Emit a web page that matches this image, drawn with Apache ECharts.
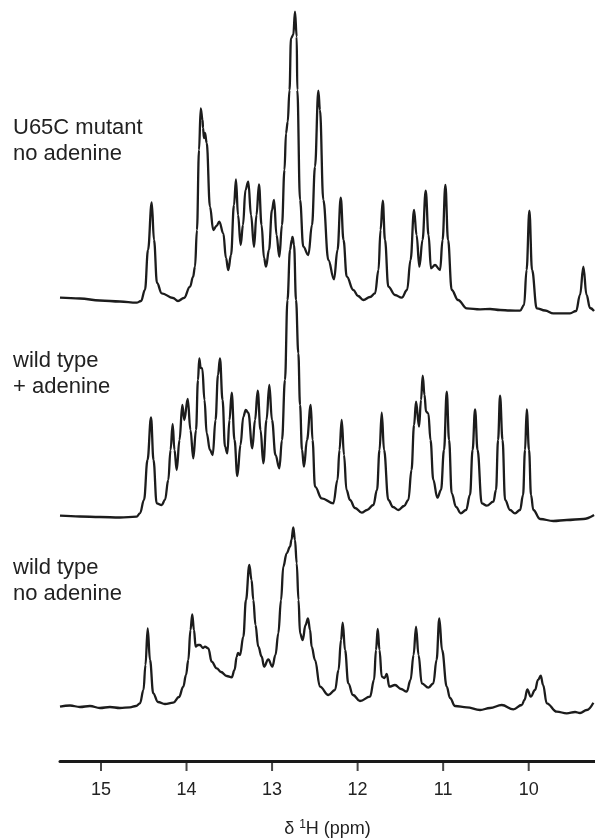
<!DOCTYPE html>
<html>
<head>
<meta charset="utf-8">
<script src="https://cdn.jsdelivr.net/npm/echarts@6/dist/echarts.min.js"></script>
<style>
  html, body { margin: 0; padding: 0; background: #fff; }
  #main { width: 595px; height: 838px; }
</style>
</head>
<body>
<div id="main"></div>
<script>
// chemical shift (ppm) and intensity (a.u.)
var shiftU65C = [15.479, 15.246, 15.012, 14.778, 14.583, 14.532, 14.486, 14.450, 14.407, 14.380, 14.345, 14.290,
  14.158, 14.100, 14.030, 13.959, 13.924, 13.901, 13.878, 13.854, 13.834, 13.813, 13.807, 13.796, 13.784, 13.764,
  13.726, 13.687, 13.650, 13.617, 13.570, 13.539, 13.512, 13.480, 13.445, 13.422, 13.398, 13.367, 13.340, 13.311,
  13.278, 13.246, 13.211, 13.182, 13.153, 13.123, 13.094, 13.071, 13.036, 13.001, 12.977, 12.948, 12.915, 12.884,
  12.855, 12.837, 12.817, 12.796, 12.779, 12.752, 12.732, 12.712, 12.705, 12.673, 12.635, 12.576, 12.533, 12.498,
  12.459, 12.440, 12.401, 12.342, 12.276, 12.235, 12.197, 12.165, 12.127, 12.050, 11.995, 11.933, 11.855, 11.796,
  11.756, 11.732, 11.706, 11.680, 11.641, 11.563, 11.484, 11.422, 11.381, 11.340, 11.311, 11.278, 11.241, 11.204,
  11.171, 11.142, 11.095, 11.036, 11.007, 10.974, 10.943, 10.900, 10.826, 10.724, 10.569, 10.452, 10.335, 10.218,
  10.101, 10.054, 10.025, 9.992, 9.961, 9.906, 9.809, 9.712, 9.517, 9.446, 9.400, 9.361, 9.324, 9.283, 9.236];
var intU65C = [2.3, 1.5, -0.5, -1.5, -2.7, -1, 10, 50, 97.7, 60, 17, 6.7,
  2, -1, 2, 13.3, 23, 33.3, 70, 150, 191.7, 180, 172, 162, 167, 157,
  93.3, 70, 74, 78.3, 66.7, 42, 30, 45, 95, 120.7, 85, 55, 75, 110,
  118.3, 85, 53.3, 85, 115.7, 75, 42, 33.3, 50, 90, 100, 65, 43.3, 75,
  130, 166.7, 178.3, 210, 261.7, 265, 288.3, 263.3, 210, 100, 53.3, 45, 75, 133.3,
  209.3, 190, 100, 40, 20.7, 50, 102.3, 60, 23.3, 10, 4, 0, 3, 6.7,
  30, 70, 99.3, 60, 13.3, 5, 2.3, 10, 40, 90, 65, 33.3, 60, 109.3,
  65, 31.7, 35, 30, 60, 115, 60, 10, 0, -8.3, -9.3, -9, -10, -10.5,
  -10.7, -5, 30, 89.3, 30, -8.3, -10.5, -13.3, -13.3, -11, 5, 33.3, 5, -8, -11];

var shiftWtAde = [15.479, 15.246, 15.012, 14.778, 14.583, 14.544, 14.497, 14.456, 14.415, 14.386, 14.349, 14.290,
  14.252, 14.213, 14.187, 14.162, 14.141, 14.115, 14.082, 14.049, 14.026, 13.986, 13.954, 13.921, 13.889, 13.866,
  13.851, 13.834, 13.816, 13.790, 13.764, 13.726, 13.694, 13.661, 13.632, 13.609, 13.579, 13.550, 13.523, 13.498,
  13.472, 13.439, 13.406, 13.369, 13.336, 13.307, 13.278, 13.231, 13.199, 13.168, 13.135, 13.102, 13.065, 13.032,
  13.001, 12.960, 12.915, 12.884, 12.849, 12.820, 12.790, 12.770, 12.761, 12.743, 12.720, 12.693, 12.673, 12.650,
  12.627, 12.592, 12.548, 12.527, 12.498, 12.420, 12.284, 12.235, 12.212, 12.186, 12.159, 12.130, 12.089, 12.030,
  11.952, 11.890, 11.816, 11.773, 11.744, 11.718, 11.691, 11.641, 11.586, 11.524, 11.457, 11.407, 11.370, 11.340,
  11.317, 11.282, 11.259, 11.239, 11.218, 11.200, 11.173, 11.148, 11.115, 11.068, 11.025, 10.990, 10.958, 10.931,
  10.900, 10.849, 10.794, 10.732, 10.686, 10.656, 10.627, 10.598, 10.549, 10.490, 10.413, 10.382, 10.358, 10.335,
  10.306, 10.276, 10.218, 10.160, 10.101, 10.066, 10.043, 10.023, 9.996, 9.973, 9.946, 9.867, 9.712, 9.555, 9.361, 9.236];
var intWtAde = [4.3, 3.5, 3, 2.5, 3.3, 6.7, 20, 60, 102.7, 60, 16.7, 15,
  20, 40, 70, 96, 70, 50, 80, 115, 100, 121, 90, 61.7, 90, 140,
  161.7, 152, 151.7, 120, 86.7, 70, 65, 100, 145, 161.7, 120, 73.3, 66.7, 100,
  127.3, 80, 44, 75, 103.3, 110, 107.3, 71.7, 100, 129.3, 90, 56.7, 100, 135,
  100, 65, 51.7, 80, 140, 220, 270, 280, 283, 275, 220, 166.7, 115, 70,
  53.3, 80, 115, 80, 33.3, 21.7, 16.7, 40, 70, 100, 65, 30, 20, 12,
  7.3, 10, 15, 30, 70, 107.3, 70, 20, 13, 10, 14, 20, 50, 95,
  118.3, 93.3, 120, 144.3, 125, 108.3, 106.7, 80, 40, 22.3, 30, 70, 128.3, 80,
  26.7, 13, 6.7, 10, 25, 70, 110.7, 70, 16.7, 14.3, 18.3, 30, 80, 124.3,
  80, 20, 10, 6.7, 10, 25, 70, 110.7, 70, 25, 10, 1, -1, 0, 1, 5];

var shiftWtApo = [15.479, 15.362, 15.246, 15.129, 15.012, 14.895, 14.778, 14.661, 14.591, 14.544, 14.503, 14.480,
  14.454, 14.427, 14.389, 14.334, 14.252, 14.155, 14.088, 14.038, 14.006, 13.979, 13.954, 13.933, 13.913, 13.893,
  13.866, 13.843, 13.807, 13.784, 13.745, 13.706, 13.647, 13.597, 13.530, 13.472, 13.439, 13.413, 13.398, 13.375,
  13.336, 13.305, 13.266, 13.240, 13.219, 13.194, 13.161, 13.121, 13.094, 13.044, 12.997, 12.960, 12.927, 12.895,
  12.869, 12.829, 12.790, 12.773, 12.752, 12.732, 12.712, 12.691, 12.673, 12.642, 12.609, 12.580, 12.556, 12.537,
  12.498, 12.440, 12.342, 12.264, 12.223, 12.194, 12.174, 12.147, 12.109, 12.054, 11.972, 11.855, 11.808, 11.785,
  11.765, 11.744, 11.718, 11.685, 11.660, 11.629, 11.563, 11.492, 11.426, 11.381, 11.346, 11.317, 11.288, 11.250,
  11.173, 11.115, 11.077, 11.045, 11.013, 10.958, 10.920, 10.861, 10.724, 10.569, 10.452, 10.315, 10.179, 10.081,
  10.049, 10.016, 9.976, 9.926, 9.891, 9.859, 9.832, 9.789, 9.672, 9.555, 9.458, 9.400, 9.321, 9.244];
var intWtApo = [3.3, 4.5, 3, 4, 2, 3, 2, 2.7, 4, 6.7, 20, 45,
  81.7, 50, 16.7, 8, 6, 7.3, 13, 23.3, 35, 50, 80, 95.7, 80, 63.3,
  65, 65, 62, 63.3, 61.7, 48.3, 41.7, 38, 34, 32.7, 40, 53.3, 57, 55,
  73.3, 110, 145, 130, 110, 85, 63.3, 53.3, 43.3, 50.7, 43.3, 55, 76.7, 110,
  143.3, 156.7, 163.3, 170, 182.7, 170, 146.7, 110, 76.7, 70, 85, 91.7, 80, 63.3,
  50, 23.3, 15, 20, 40, 70, 87.3, 60, 26.7, 15, 9, 13.3, 30, 60,
  81, 60, 33.3, 32, 36, 23.3, 25, 21, 18.3, 30, 55, 83.3, 55, 26.7,
  22.3, 26.7, 50, 91.7, 60, 23.3, 12, 4, 2.7, 0, 2, 5, 0.7, 5,
  10, 20.7, 13.3, 20, 30, 34.3, 25, 6.7, -1.7, -3.3, -2, -3, 0, 7.3];

var traceLabels = [['U65C mutant', 'no adenine'], ['wild type', '+ adenine'], ['wild type', 'no adenine']];
var tickValues = [15, 14, 13, 12, 11, 10];

var shifts = [shiftU65C, shiftWtAde, shiftWtApo];
var ints = [intU65C, intWtAde, intWtApo];

var chart = echarts.init(document.getElementById('main'), null, { renderer: 'canvas' });

// one grid per trace (1 intensity unit = 1 px), plus a thin grid carrying the ppm axis
var grids = [
  { left: 60, right: 0, top: 0, height: 330, outerBoundsMode: 'none' },
  { left: 60, right: 0, top: 220, height: 330, outerBoundsMode: 'none' },
  { left: 60, right: 0, top: 400, height: 361, outerBoundsMode: 'none' },
  { left: 60, right: 0, top: 740, height: 21, outerBoundsMode: 'none' }
];
var yRanges = [[-30, 300], [-30, 300], [-51, 310], [0, 1]];
var labelTop = [115, 348, 555];
var font = 'Liberation Sans, Arial, Helvetica, sans-serif';

var xAxes = [], yAxes = [], series = [], graphics = [];
for (var i = 0; i < 4; i++) {
  xAxes.push({
    gridIndex: i,
    type: 'value',
    min: 9.225,
    max: 15.479,
    inverse: true,
    show: i === 3,
    axisLine: { show: true, onZero: false, lineStyle: { color: '#1a1a1a', width: 3 } },
    axisTick: { show: false },
    axisLabel: { customValues: tickValues, margin: 20, color: '#222', fontSize: 18, fontFamily: font },
    splitLine: { show: false },
    name: '{a|δ }{sup|1}{a|H (ppm)}',
    nameLocation: 'middle',
    nameGap: 58,
    nameTextStyle: {
      rich: {
        a: { fontSize: 18, color: '#222', fontFamily: font },
        sup: { fontSize: 12, color: '#222', fontFamily: font, padding: [0, 0, 9, 0] }
      }
    }
  });
  yAxes.push({
    gridIndex: i, type: 'value', show: false,
    min: yRanges[i][0], max: yRanges[i][1]
  });
}

for (var j = 0; j < 3; j++) {
  var pts = [];
  for (var k = 0; k < shifts[j].length; k++) pts.push([shifts[j][k], ints[j][k]]);
  series.push({
    type: 'line',
    xAxisIndex: j,
    yAxisIndex: j,
    data: pts,
    showSymbol: false,
    smooth: 0.4,
    smoothMonotone: 'x',
    lineStyle: { color: '#1c1c1c', width: 2.3 },
    silent: true
  });
  graphics.push({
    type: 'text', left: 13, top: labelTop[j],
    style: { text: traceLabels[j].join('\n'), fill: '#222', fontSize: 22, lineHeight: 26, fontFamily: font }
  });
}

// tick marks hanging below the ppm axis line, placed on the axis scale
series.push({
  type: 'scatter',
  xAxisIndex: 3,
  yAxisIndex: 3,
  data: tickValues.map(function (v) { return [v, 0]; }),
  symbol: 'rect',
  symbolSize: [2, 10],
  symbolOffset: [0, 5],
  itemStyle: { color: '#1a1a1a' },
  clip: false,
  silent: true,
  z: 5
});

chart.setOption({
  animation: false,
  backgroundColor: '#fff',
  grid: grids,
  xAxis: xAxes,
  yAxis: yAxes,
  series: series,
  graphic: graphics
});
</script>
</body>
</html>
